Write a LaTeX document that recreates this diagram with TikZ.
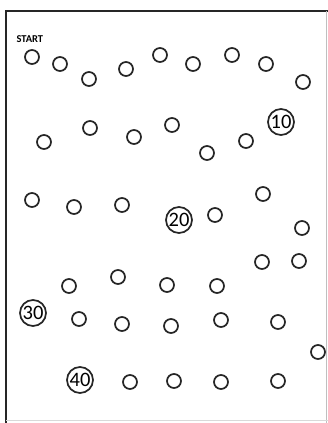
\documentclass[tikz,border=0pt]{standalone}
\usepackage{fontspec}
\setmainfont{Carlito}
\begin{document}
\begin{tikzpicture}[x=1pt,y=-1pt,
  dot/.style={circle,draw=black!85,line width=1.7pt,minimum size=14pt,inner sep=0pt},
  numdot/.style={circle,draw=black!85,line width=1.7pt,minimum size=26pt,inner sep=0pt,font=\fontsize{20.5}{20}\selectfont},
  frameline/.style={line width=2pt,black!85}]
\useasboundingbox (0,0) rectangle (328,423);
\draw[frameline] (6,423) -- (6,11) -- (328,11);
\draw[line width=0.6pt,black!25] (326.5,11) -- (326.5,423);
\draw[line width=0.6pt,black!15] (6,420) -- (328,420);
\node[font=\fontsize{10.5}{10}\selectfont\bfseries,anchor=west] (start) at (13,39) {START};
% row 1
\node[dot] (d1) at (32,57) {};
\node[dot] (d2) at (60,64) {};
\node[dot] (d3) at (89,79) {};
\node[dot] (d4) at (126,69) {};
\node[dot] (d5) at (160,55) {};
\node[dot] (d6) at (193,64) {};
\node[dot] (d7) at (232,55) {};
\node[dot] (d8) at (266,64) {};
\node[dot] (d9) at (303,82) {};
% row 2
\node[numdot] (d10) at (281,122) {10};
\node[dot] (d11) at (246,141) {};
\node[dot] (d12) at (207,153) {};
\node[dot] (d13) at (172,125) {};
\node[dot] (d14) at (134,137) {};
\node[dot] (d15) at (90,128) {};
\node[dot] (d16) at (44,142) {};
% row 3
\node[dot] (d17) at (32,200) {};
\node[dot] (d18) at (74,207) {};
\node[dot] (d19) at (122,205) {};
\node[numdot] (d20) at (179,220) {20};
\node[dot] (d21) at (215,215) {};
\node[dot] (d22) at (263,194) {};
\node[dot] (d23) at (302,228) {};
\node[dot] (d24) at (299,261) {};
\node[dot] (d25) at (262,262) {};
\node[dot] (d26) at (217,286) {};
\node[dot] (d27) at (167,285) {};
\node[dot] (d28) at (118,277) {};
\node[dot] (d29) at (69,286) {};
% row 4
\node[numdot] (d30) at (33,313) {30};
\node[dot] (d31) at (79,319) {};
\node[dot] (d32) at (122,324) {};
\node[dot] (d33) at (171,326) {};
\node[dot] (d34) at (221,320) {};
\node[dot] (d35) at (278,322) {};
\node[dot] (d36) at (318,352) {};
% row 5
\node[dot] (d37) at (278,381) {};
\node[dot] (d38) at (221,382) {};
\node[dot] (d39) at (174,381) {};
\node[dot] (d39b) at (130,382) {};
\node[numdot] (d40) at (80,380) {40};
\end{tikzpicture}
\end{document}
